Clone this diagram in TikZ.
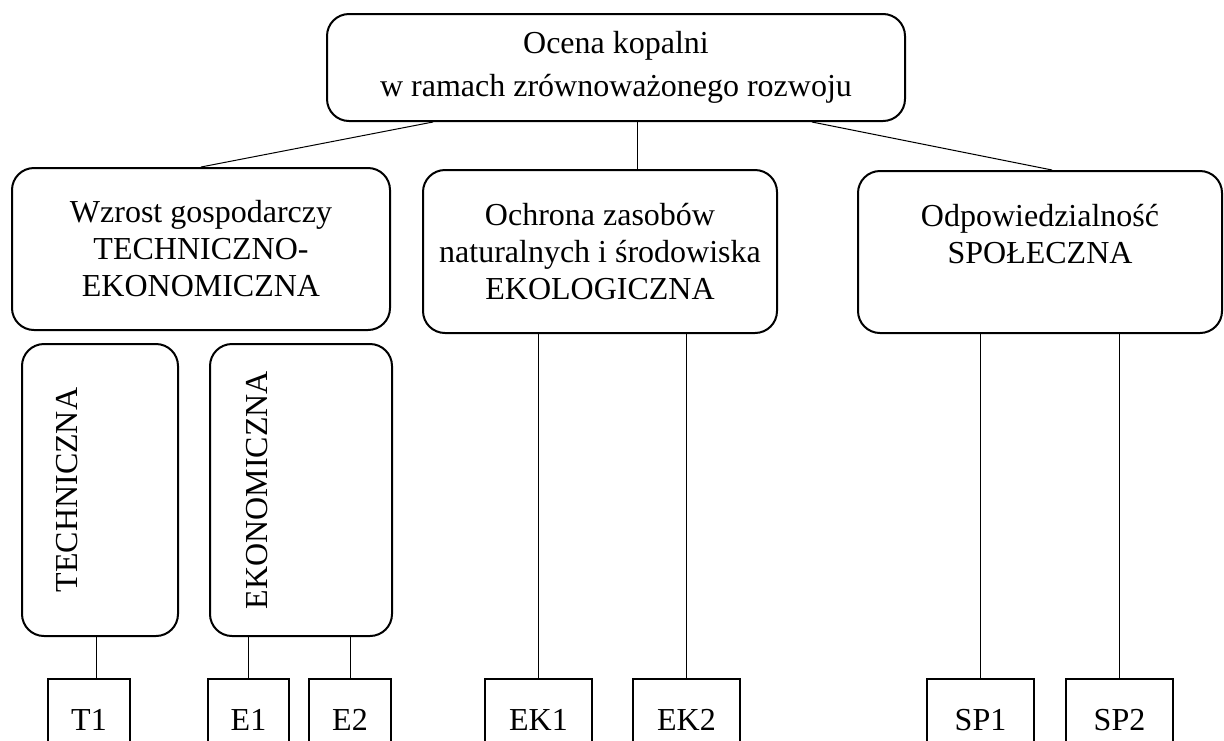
\documentclass[tikz,border=0pt]{standalone}
\usepackage{fontspec}
\setmainfont{Liberation Serif}
\usetikzlibrary{positioning,calc}
\tikzset{box/.style={draw,line width=1pt,rounded corners=11pt,align=center,inner sep=0pt,font=\fontsize{16}{18.5}\selectfont}, vbox/.style={draw,line width=1pt,rounded corners=11pt,minimum width=#1,minimum height=146pt,inner sep=0pt}, vbox/.default=78pt, vtext/.style={rotate=90,inner sep=0pt,font=\fontsize{16}{18.5}\selectfont}, leaf/.style={draw,line width=1pt,anchor=north,minimum width=#1,minimum height=41pt,inner sep=0pt,font=\fontsize{16}{18.5}\selectfont}, leaf/.default=53.5pt, ln/.style={line width=0.5pt}}

\begin{document}
\begin{tikzpicture}[x=0.5pt,y=-0.5pt]
\useasboundingbox (0,0) rectangle (1224,740);
\clip (0,0) rectangle (1224,740);
\node[box,minimum width=289pt,minimum height=53.5pt,font=\fontsize{16}{21.5}\selectfont] (top) at (616,67.5) {Ocena kopalni\\w ramach zrównoważonego rozwoju};
\node[box,minimum width=189pt,minimum height=81pt] (wzr) at (201,249) {Wzrost gospodarczy\\TECHNICZNO-\\EKONOMICZNA};
\node[box,minimum width=177pt,minimum height=81.5pt] (och) at (600,251.5) {Ochrona zasobów\\naturalnych i środowiska\\EKOLOGICZNA};
\node[box,minimum width=182pt,minimum height=81pt] (odp) at (1040,252) {Odpowiedzialność\\SPOŁECZNA\\~};
\node[vbox=78pt] (tech) at (100,490) {};
\node[vbox=91pt] (eko) at (301,490) {};
\node[vtext] at ([xshift=-16.5pt]tech.center) {TECHNICZNA};
\node[vtext] at ([xshift=-22pt]eko.center) {EKONOMICZNA};
\foreach \n/\x/\w in {T1/89/41pt,E1/248.5/40.5pt,E2/350/41pt,EK1/538.5/53.5pt,EK2/686.5/53.5pt,SP1/980.5/53.5pt,SP2/1119.5/53.5pt}
  \node[leaf=\w] (\n) at (\x,678) {\n};
% connectors
\draw[ln] ([xshift=-91.5pt]top.south) -- (wzr.north);
\draw[ln] ([xshift=10.5pt]top.south) coordinate (m) -- (m |- och.north);
\draw[ln] ([xshift=98pt]top.south) -- ([xshift=6pt]odp.north);
\draw[ln] ([xshift=3.5pt]T1.north) coordinate (t) -- (t |- tech.south);
\foreach \a/\b in {eko/E1,eko/E2,och/EK1,och/EK2,odp/SP1,odp/SP2}
  \draw[ln] (\b.north) -- (\b.north |- \a.south);
\end{tikzpicture}
\end{document}
